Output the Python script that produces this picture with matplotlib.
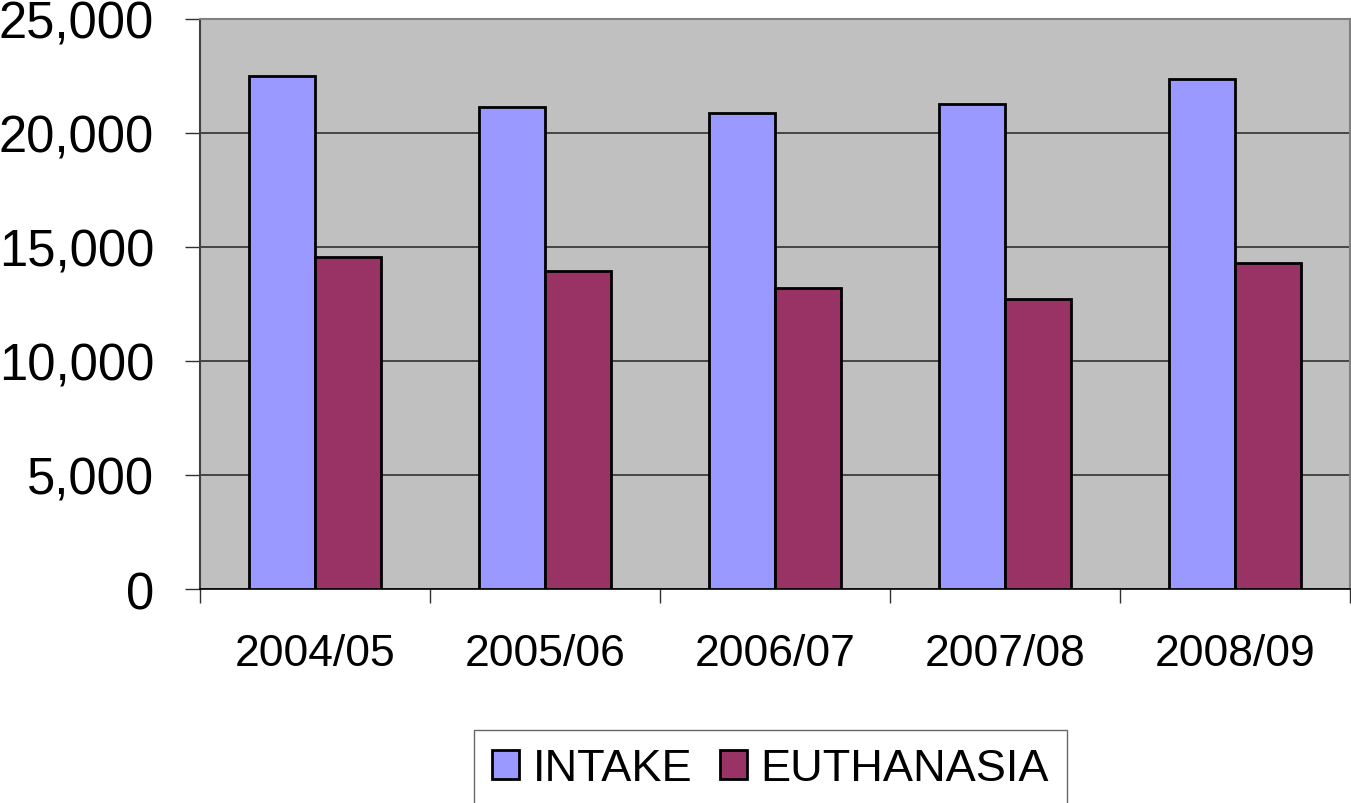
import numpy as np
import matplotlib.pyplot as plt

plt.rcParams['font.family'] = ['Liberation Sans', 'DejaVu Sans']

years = ["2004/05", "2005/06", "2006/07", "2007/08", "2008/09"]
intake = [22500, 21140, 20880, 21270, 22370]
euthanasia = [14560, 13950, 13200, 12720, 14300]

fig = plt.figure(figsize=(13.51, 8.04), dpi=100)
ax = fig.add_axes([200 / 1351, 1 - 590 / 804, 1150 / 1351, 570 / 804])
ax.set_facecolor('#C0C0C0')

x = np.arange(len(years))
w = 1 / 3.5
ax.bar(x - w / 2, intake, w, color='#9999FF', edgecolor='black', linewidth=2,
       label="INTAKE", zorder=3)
ax.bar(x + w / 2, euthanasia, w, color='#993366', edgecolor='black', linewidth=2,
       label="EUTHANASIA", zorder=3)

ax.set_xlim(-0.5, len(years) - 0.5)
ax.set_ylim(0, 25000)
ax.set_yticks(range(0, 25001, 5000))
ax.set_yticklabels([f"{v:,}" for v in range(0, 25001, 5000)], fontsize=36.5)
ax.set_xticks(x)
ax.set_xticklabels(years, fontsize=32)
ax.set_xticks(np.arange(-0.5, len(years)), minor=True)
ax.tick_params(axis='x', which='major', length=0, pad=32)
ax.tick_params(axis='x', which='minor', length=10, width=1, color='#303030')
ax.tick_params(axis='y', length=11, width=1, color='#303030', pad=22)
ax.yaxis.grid(True, color='#303030', linewidth=1.2, zorder=1)
ax.set_axisbelow(True)

ax.spines['left'].set_color('#404040')
ax.spines['left'].set_linewidth(1.5)
ax.spines['bottom'].set_color('black')
ax.spines['bottom'].set_linewidth(1.2)
ax.spines['top'].set_color('#808080')
ax.spines['top'].set_linewidth(1.5)
ax.spines['right'].set_color('#808080')
ax.spines['right'].set_linewidth(1.5)

leg = fig.legend(loc='center', bbox_to_anchor=(770.5 / 1351, 1 - 770 / 804),
                 ncol=2, fontsize=32.5, frameon=True, fancybox=False,
                 handlelength=0.6, handleheight=0.6, handletextpad=0.3,
                 columnspacing=0.6, borderpad=0.4, borderaxespad=0)
leg.get_frame().set_edgecolor('#404040')
leg.get_frame().set_linewidth(1)

plt.savefig("out.png", dpi=100)
